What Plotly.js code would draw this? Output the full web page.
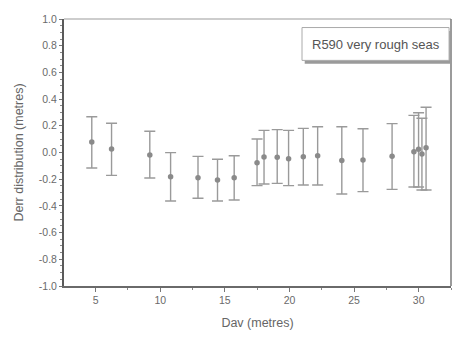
<!DOCTYPE html>
<html>
<head>
<meta charset="utf-8">
<script src="https://cdn.plot.ly/plotly-3.0.1.min.js"></script>
<style>
  html, body { margin: 0; padding: 0; background: #fff; }
  #chart { width: 457px; height: 341px; }
</style>
</head>
<body>
<div id="chart"></div>
<script>
// Mean error (Derr) against average distance (Dav), with spread shown as error bars
const dav = [4.7, 6.23, 9.19, 10.8, 12.92, 14.43, 15.72, 17.49, 18.03, 19.05, 19.93, 21.07, 22.18,
             24.05, 25.69, 27.94, 29.63, 29.99, 30.25, 30.57];
const derr = [0.079, 0.026, -0.019, -0.181, -0.189, -0.206, -0.189, -0.076, -0.034, -0.036, -0.046,
              -0.031, -0.024, -0.059, -0.056, -0.029, 0.006, 0.024, -0.011, 0.036];
const errUp = [0.189, 0.193, 0.178, 0.180, 0.160, 0.155, 0.165, 0.177, 0.200, 0.207, 0.212,
               0.212, 0.217, 0.252, 0.234, 0.245, 0.272, 0.274, 0.267, 0.303];
const errDown = [0.195, 0.197, 0.172, 0.182, 0.154, 0.157, 0.167, 0.172, 0.202, 0.195, 0.202,
                 0.212, 0.219, 0.252, 0.237, 0.247, 0.264, 0.282, 0.270, 0.317];
const seriesLabel = 'R590 very rough seas';

const axisFont = { family: 'Liberation Sans, Arial, sans-serif', size: 10.5, color: '#6a6a6a' };
const titleFont = { family: 'Liberation Sans, Arial, sans-serif', size: 12.5, color: '#666' };

const trace = {
  x: dav,
  y: derr,
  type: 'scatter',
  mode: 'markers',
  marker: { color: '#8a8a8a', size: 5.5 },
  error_y: {
    type: 'data',
    symmetric: false,
    array: errUp,
    arrayminus: errDown,
    color: '#9a9a9a',
    thickness: 1.4,
    width: 5.5
  },
  showlegend: false,
  hoverinfo: 'skip'
};

const layout = {
  width: 457,
  height: 341,
  margin: { l: 64, r: 6, t: 19, b: 55 },
  paper_bgcolor: '#fff',
  plot_bgcolor: '#fff',
  xaxis: {
    range: [2.55, 32.5],
    tickvals: [5, 10, 15, 20, 25, 30],
    ticktext: ['5', '10', '15', '20', '25', '30'],
    ticks: 'outside',
    ticklen: 4,
    tickwidth: 1,
    tickcolor: '#777',
    minor: { dtick: 2.5, tick0: 0, ticks: 'outside', ticklen: 2, tickcolor: '#888' },
    showgrid: false,
    zeroline: false,
    showline: true,
    linecolor: '#6a6a6a',
    linewidth: 1.5,
    tickfont: axisFont,
    title: { text: 'Dav (metres)', font: titleFont, standoff: 13 }
  },
  yaxis: {
    range: [-1.0, 1.0],
    tickvals: [-1.0, -0.8, -0.6, -0.4, -0.2, 0.0, 0.2, 0.4, 0.6, 0.8, 1.0],
    ticktext: ['-1.0', '-0.8', '-0.6', '-0.4', '-0.2', '0.0', '0.2', '0.4', '0.6', '0.8', '1.0'],
    ticks: 'outside',
    ticklen: 3,
    tickwidth: 1,
    tickcolor: '#777',
    minor: { dtick: 0.05, tick0: 0, ticks: 'outside', ticklen: 2, tickcolor: '#888' },
    showgrid: false,
    zeroline: false,
    showline: true,
    linecolor: '#5a5a5a',
    linewidth: 2,
    tickfont: axisFont,
    title: { text: 'Derr distribution (metres)', font: titleFont, standoff: 12 }
  },
  shapes: [
    // top and right frame lines
    { type: 'line', xref: 'paper', yref: 'paper', x0: 0, x1: 1, y0: 1, y1: 1,
      line: { color: '#bdbdbd', width: 1.5 } },
    { type: 'line', xref: 'paper', yref: 'paper', x0: 1, x1: 1, y0: 0, y1: 1,
      line: { color: '#7a7a7a', width: 1.5 } },
    // label box shadow and box
    { type: 'rect', xref: 'paper', yref: 'paper', x0: 0.622, x1: 1.0, y0: 0.832, y1: 0.955,
      fillcolor: '#9a9a9a', line: { width: 0 } },
    { type: 'rect', xref: 'paper', yref: 'paper', x0: 0.615, x1: 0.995, y0: 0.845, y1: 0.968,
      fillcolor: '#ffffff', line: { color: '#aaaaaa', width: 1 } }
  ],
  annotations: [
    { xref: 'paper', yref: 'paper', x: 0.805, y: 0.906, text: seriesLabel, showarrow: false,
      xanchor: 'center', yanchor: 'middle',
      font: { family: 'Liberation Sans, Arial, sans-serif', size: 13, color: '#555' } }
  ]
};

Plotly.newPlot('chart', [trace], layout, { staticPlot: true, displayModeBar: false });
</script>
</body>
</html>
